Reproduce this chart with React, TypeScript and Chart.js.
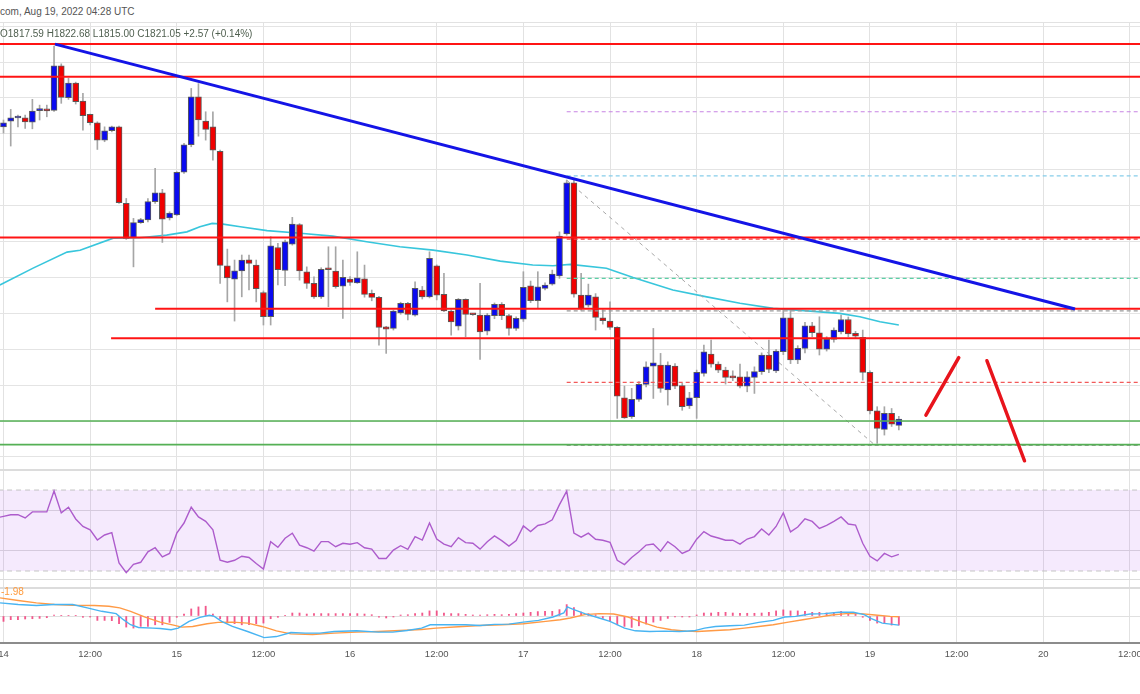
import React, { useEffect, useRef } from 'react';
import { Chart, registerables } from 'chart.js';

Chart.register(...registerables);
document.body.style.margin = '0';

// ---------------- data (hourly candles, hour 0 = Aug 14 00:00) ----------------
const OPEN = [1983.9, 1987.1, 1988.8, 1988.9, 1986.5, 1992.9, 1994.0, 1993.1, 2017.9, 2000.1, 2008.3, 1998.2, 1990.8, 1986.2, 1976.5, 1981.7, 1983.9, 1941.3, 1922.1, 1930.5, 1932.0, 1942.2, 1947.2, 1933.2, 1934.9, 1958.7, 1973.9, 2000.6, 1987.1, 1983.9, 1970.2, 1906.5, 1899.1, 1903.7, 1909.8, 1906.9, 1891.6, 1878.1, 1916.7, 1903.9, 1918.6, 1929.5, 1903.2, 1896.7, 1889.2, 1904.7, 1903.6, 1895.2, 1899.1, 1897.0, 1899.3, 1891.1, 1888.9, 1872.5, 1871.6, 1880.3, 1885.6, 1879.0, 1893.0, 1889.2, 1906.5, 1890.6, 1881.3, 1872.9, 1887.8, 1879.6, 1879.0, 1870.1, 1878.7, 1885.0, 1878.7, 1871.6, 1876.8, 1895.4, 1887.0, 1893.9, 1896.3, 1900.8, 1924.2, 1952.7, 1890.2, 1884.6, 1889.2, 1877.5, 1875.7, 1872.2, 1833.0, 1822.4, 1832.1, 1840.4, 1850.6, 1851.2, 1837.3, 1850.6, 1839.7, 1828.4, 1833.0, 1846.6, 1857.3, 1851.7, 1848.4, 1844.5, 1844.7, 1839.5, 1844.3, 1847.5, 1856.8, 1848.0, 1858.6, 1877.5, 1854.0, 1860.5, 1873.1, 1869.2, 1860.1, 1865.5, 1869.7, 1876.6, 1868.9, 1866.6, 1847.1, 1825.7, 1815.4, 1824.3, 1817.59];
const HIGH = [1987.7, 1993.6, 1990.4, 1990.4, 1999.2, 1996.0, 1996.0, 2028.9, 2019.0, 2010.9, 2008.8, 2002.5, 1991.0, 1986.7, 1983.9, 1984.3, 1984.3, 1944.0, 1932.9, 1932.9, 1944.0, 1960.8, 1949.1, 1936.6, 1958.9, 1974.7, 2005.3, 2008.0, 1992.3, 1992.3, 1970.9, 1915.8, 1909.7, 1912.5, 1912.5, 1909.7, 1892.5, 1922.7, 1919.0, 1920.8, 1933.5, 1930.0, 1905.9, 1900.4, 1905.4, 1917.1, 1917.1, 1909.7, 1900.5, 1914.3, 1906.9, 1893.0, 1889.5, 1872.8, 1881.8, 1886.2, 1886.2, 1897.6, 1895.0, 1914.3, 1907.0, 1902.3, 1882.0, 1888.3, 1888.1, 1880.0, 1896.7, 1880.0, 1885.8, 1886.0, 1879.5, 1878.0, 1903.2, 1898.0, 1903.2, 1897.0, 1904.1, 1925.4, 1954.2, 1954.2, 1902.3, 1896.3, 1891.0, 1882.0, 1886.4, 1872.6, 1839.5, 1838.2, 1842.0, 1853.0, 1871.6, 1857.7, 1853.0, 1852.0, 1841.0, 1836.0, 1848.4, 1862.3, 1865.1, 1853.0, 1850.0, 1848.0, 1851.7, 1847.5, 1850.2, 1858.0, 1865.1, 1860.0, 1881.8, 1881.8, 1862.0, 1875.0, 1875.0, 1878.1, 1867.0, 1872.0, 1879.0, 1878.0, 1870.0, 1870.7, 1848.0, 1828.0, 1828.0, 1827.0, 1822.68];
const LOW = [1980.4, 1973.2, 1983.9, 1983.0, 1982.8, 1987.7, 1989.5, 1992.5, 1997.0, 1999.2, 1996.6, 1982.1, 1984.9, 1971.3, 1975.6, 1981.1, 1941.3, 1921.2, 1905.9, 1930.1, 1931.0, 1941.3, 1919.5, 1932.0, 1934.5, 1958.0, 1972.8, 1978.7, 1976.5, 1965.4, 1896.7, 1886.4, 1875.7, 1889.2, 1893.0, 1886.4, 1873.5, 1873.5, 1895.8, 1895.4, 1918.0, 1898.5, 1893.9, 1888.3, 1888.3, 1883.7, 1894.0, 1877.2, 1895.5, 1896.7, 1889.0, 1887.0, 1862.3, 1857.7, 1870.7, 1879.5, 1876.3, 1878.4, 1888.0, 1888.6, 1887.5, 1880.9, 1867.9, 1870.7, 1867.0, 1878.8, 1854.4, 1868.0, 1877.0, 1876.5, 1867.9, 1870.5, 1875.5, 1886.0, 1882.8, 1893.0, 1895.7, 1899.5, 1923.5, 1889.0, 1881.8, 1883.5, 1870.7, 1874.0, 1871.0, 1821.5, 1821.5, 1821.5, 1831.0, 1839.0, 1832.6, 1836.0, 1828.9, 1838.0, 1826.0, 1827.0, 1821.5, 1845.0, 1850.0, 1847.0, 1840.6, 1842.5, 1838.5, 1836.3, 1835.4, 1846.0, 1847.0, 1847.0, 1857.0, 1852.0, 1852.0, 1858.0, 1867.0, 1856.8, 1859.0, 1864.0, 1868.5, 1867.0, 1866.0, 1842.8, 1824.0, 1807.6, 1812.2, 1817.0, 1815.0];
const CLOSE = [1986.2, 1988.9, 1989.0, 1986.7, 1992.7, 1993.2, 1992.8, 2017.9, 2000.3, 2008.3, 1997.9, 1990.1, 1986.2, 1976.5, 1981.7, 1983.9, 1941.6, 1921.8, 1930.5, 1932.3, 1942.2, 1947.2, 1932.5, 1935.9, 1958.5, 1973.9, 2000.6, 1987.7, 1982.5, 1970.9, 1906.7, 1899.7, 1903.7, 1909.7, 1907.8, 1893.8, 1878.1, 1917.6, 1904.3, 1919.9, 1929.7, 1903.7, 1896.7, 1889.2, 1904.5, 1904.3, 1894.8, 1900.0, 1897.3, 1899.8, 1890.6, 1888.9, 1872.2, 1871.2, 1881.3, 1885.6, 1879.4, 1893.9, 1889.2, 1910.6, 1890.2, 1881.3, 1875.3, 1887.8, 1879.4, 1879.2, 1869.7, 1879.0, 1885.0, 1878.7, 1871.6, 1877.2, 1894.5, 1887.0, 1894.8, 1895.8, 1901.9, 1923.1, 1952.7, 1890.7, 1882.8, 1890.2, 1877.8, 1875.9, 1872.2, 1833.9, 1821.8, 1832.1, 1840.4, 1850.2, 1852.5, 1838.2, 1851.2, 1839.5, 1828.0, 1833.0, 1847.1, 1858.6, 1851.7, 1848.4, 1844.3, 1844.1, 1839.5, 1844.7, 1847.5, 1856.8, 1848.8, 1859.0, 1877.5, 1854.0, 1860.5, 1873.1, 1869.2, 1860.1, 1865.5, 1870.7, 1876.6, 1868.5, 1867.3, 1847.1, 1825.7, 1815.9, 1824.3, 1818.3, 1821.05];

// moving average readings (hour, price)
const MA_X = [-0.5, 4.1, 8.8, 10.6, 15.2, 18.9, 22.6, 25.4, 27.2, 28.9, 30.4, 32.8, 36.5, 41.1, 45.6, 50.3, 54.9, 59.5, 64.2, 68.8, 73.3, 76.1, 78.5, 83.5, 87.2, 92.7, 97.4, 102.0, 106.6, 111.3, 115.8, 118.6, 121.4, 124];
const MA_Y = [1895.8, 1905.2, 1914.1, 1915.2, 1921.9, 1922.1, 1923.6, 1925.4, 1928.2, 1930.1, 1929.7, 1928.2, 1926.1, 1924.6, 1923.0, 1919.9, 1917.1, 1915.2, 1912.5, 1909.1, 1906.9, 1906.5, 1907.3, 1905.1, 1900.0, 1893.0, 1889.2, 1885.6, 1882.8, 1881.4, 1880.0, 1878.1, 1875.3, 1873.5];

// drawn levels
const RED_LEVELS = [2030.0, 2011.8, 1922.3, 1882.5, 1866.1];
const RED_LEVEL_FROM = [-2, -2, -2, 21.0, 14.9];
const GREEN_LEVELS = [1820.0, 1806.9];
const FIB_FROM = 78;
const FIB_LEVELS = [1992.3, 1956.6, 1921.4, 1899.5, 1881.4, 1841.6, 1806.4];
const TREND_X = [7.13, 148.4];
const TREND_Y = [2030.0, 1882.4];
const DIAG_X = [78, 120.7];
const DIAG_Y = [1954.2, 1806.6];
const PROJ_UP_X = [127.75, 132.3];
const PROJ_UP_Y = [1823.3, 1855.3];
const PROJ_DOWN_X = [136.2, 141.4];
const PROJ_DOWN_Y = [1853.6, 1797.9];

// RSI, first value is hour -1
const RSI_FIRST_HOUR = -1;
const RSI = [56.2, 57.0, 57.8, 57.8, 56.2, 59.2, 59.2, 59.2, 69.5, 58.7, 61.5, 55.7, 52.0, 50.3, 45.3, 47.8, 49.0, 34.0, 29.2, 33.3, 34.3, 39.5, 41.5, 37.0, 38.7, 48.7, 53.7, 61.5, 56.7, 54.5, 50.3, 35.3, 34.3, 35.3, 37.3, 36.7, 33.7, 31.0, 44.5, 41.7, 46.2, 48.7, 42.8, 41.5, 39.8, 44.5, 44.5, 42.0, 43.7, 43.2, 44.0, 41.5, 40.8, 36.2, 36.2, 40.3, 42.5, 40.7, 47.0, 45.3, 53.7, 45.8, 43.3, 42.0, 46.5, 44.0, 43.7, 40.8, 44.5, 47.3, 45.0, 42.3, 45.0, 52.3, 49.5, 52.5, 53.3, 55.3, 62.8, 69.5, 48.7, 46.7, 48.7, 45.7, 45.2, 44.2, 35.3, 33.2, 36.7, 39.5, 42.8, 43.3, 39.8, 44.5, 42.0, 38.7, 40.3, 45.7, 49.5, 47.3, 46.3, 45.2, 45.2, 43.3, 45.8, 47.0, 50.8, 47.8, 52.0, 58.7, 49.3, 51.7, 55.8, 54.5, 51.0, 52.5, 54.5, 56.7, 53.2, 52.7, 43.7, 37.3, 35.0, 38.7, 37.0, 38.2];
const RSI_BAND = [30, 70];
const RSI_GRID = [26, 40, 60];

// MACD
const MACD_X = [-0.48, 2.03, 4.55, 6.97, 9.59, 11.6, 13.6, 15.6, 16.6, 17.6, 18.7, 20.7, 21.7, 23.2, 24.2, 25.7, 27.2, 28.5, 29.2, 30.2, 31.7, 33.8, 36.1, 37.8, 39.8, 41.8, 43.8, 45.8, 48.9, 51.9, 53.9, 55.9, 57.9, 59.1, 60.9, 64.0, 66.0, 68.0, 70.0, 72.0, 74.1, 76.1, 77.6, 78.1, 78.4, 79.0, 80.5, 82.5, 84.0, 86.0, 87.5, 89.5, 91.5, 93.6, 95.6, 97.1, 98.6, 100.6, 102.6, 104.6, 106.6, 108.2, 109.7, 111.7, 113.7, 115.7, 117.7, 119.2, 120.2, 121.7, 124.0];
const MACD_Y = [2.85, 2.49, 2.27, 2.49, 2.49, 1.76, 1.02, 0.51, -0.80, -1.90, -2.49, -2.64, -2.71, -3.00, -2.64, -1.17, -0.29, 0.15, -0.07, -1.17, -2.27, -3.37, -4.69, -4.47, -3.59, -3.73, -3.73, -3.37, -3.22, -3.51, -3.51, -3.15, -2.64, -1.90, -1.90, -1.90, -2.05, -1.83, -1.76, -1.32, -0.95, -0.22, 0.66, 1.98, 1.76, 1.39, 0.51, -0.44, -1.17, -2.64, -3.22, -3.37, -3.29, -3.37, -3.22, -2.64, -2.27, -2.12, -1.98, -1.39, -0.95, -0.22, -0.07, 0.44, 0.51, 0.81, 0.81, 0.29, -0.59, -1.54, -1.98];
const SIGNAL_X = [-0.48, 2.03, 4.55, 7.07, 9.59, 12.6, 14.6, 16.1, 17.6, 19.7, 21.7, 23.7, 24.7, 26.2, 28.2, 29.7, 31.7, 33.8, 35.8, 37.8, 39.8, 42.8, 45.8, 48.9, 51.9, 54.9, 57.9, 59.9, 63.0, 66.0, 69.0, 72.0, 75.1, 77.1, 78.5, 80.5, 82.5, 84.5, 86.5, 88.5, 90.5, 92.5, 94.6, 96.1, 98.6, 100.6, 102.6, 104.6, 106.6, 108.7, 110.7, 112.7, 114.7, 116.7, 118.7, 120.7, 122.8, 124.0];
const SIGNAL_Y = [3.95, 3.37, 2.85, 2.49, 2.34, 2.27, 2.12, 1.76, 1.02, -0.29, -1.32, -2.05, -2.42, -2.27, -1.68, -1.39, -1.32, -1.54, -2.27, -3.22, -3.88, -4.03, -3.73, -3.51, -3.37, -3.15, -2.93, -2.64, -2.34, -2.05, -1.90, -1.68, -1.17, -0.81, -0.44, 0.29, 0.51, 0.44, -0.22, -1.39, -2.42, -3.00, -3.29, -3.37, -3.15, -3.00, -2.64, -2.27, -1.90, -1.32, -0.81, -0.29, 0.22, 0.51, 0.51, 0.22, -0.07, -0.15];
const HIST = [-1.17, -0.80, -0.80, -0.65, -0.59, -0.52, -0.37, 0.22, 0.15, 0.15, 0.15, -0.28, -0.22, -0.96, -0.96, -1.02, -1.67, -2.41, -2.63, -2.26, -2.26, -1.91, -1.91, -1.39, -0.28, 0.43, 1.54, 1.98, 2.13, 0.43, -0.59, -1.54, -1.67, -1.91, -1.91, -1.67, -1.54, -0.59, -0.28, 0.15, 0.65, 0.65, 0.43, 0.52, 0.52, 0.52, 0.52, 0.52, 0.52, 0.52, 0.43, 0.28, -0.28, -0.43, -0.22, 0.22, 0.28, 0.52, 0.65, 1.11, 1.11, 0.65, 0.52, 0.52, 0.37, 0.22, 0.22, 0.28, 0.37, 0.28, 0.37, 0.52, 0.65, 0.80, 0.96, 1.02, 1.02, 1.39, 2.48, 1.83, 0.87, 0.52, 0.28, -0.52, -1.17, -1.91, -2.26, -2.48, -2.13, -1.76, -1.33, -0.96, -0.52, -0.22, -0.22, -0.22, 0.22, 0.65, 0.65, 0.80, 0.80, 0.65, 0.59, 0.59, 0.59, 0.65, 0.80, 1.11, 1.33, 1.11, 1.11, 1.02, 0.80, 0.80, 0.65, 0.80, 1.02, 0.80, 0.52, -0.28, -0.96, -1.54, -1.67, -1.98, -1.98];
const MACD_LABEL = '-1.98';

const X_TICK_LABELS = ['14', '12:00', '15', '12:00', '16', '12:00', '17', '12:00', '18', '12:00', '19', '12:00', '20', '12:00'];
const TITLE = 'com, Aug 19, 2022 04:28 UTC';
const OHLC_TEXT = 'O1817.59 H1822.68 L1815.00 C1821.05 +2.57 (+0.14%)';

// ---------------- layout / style ----------------
const W = 1140;
const X_MIN = -0.485;
const X_MAX = 157.4;
const PRICE_MIN = 1793.3;
const PRICE_MAX = 2042.3;
const RSI_MIN = 21.6;
const RSI_MAX = 79.9;
const MACD_MIN = -5.87;
const MACD_MAX = 6.09;
const FONT = "'Liberation Sans', Arial, sans-serif";
const BLUE = '#0a0af0';
const RED = '#f00000';
const FIB_COLORS = ['#c784e3', '#86cdea', '#f04848', '#5ccfa6', '#9a9a9a', '#f25a5a', '#9a9a9a'];

Chart.defaults.font.family = FONT;

const pts = (xs: number[], ys: number[]) => xs.map((x, k) => ({ x, y: ys[k] }));
const hline = (level: number, from = -2, to = 162) => [{ x: from, y: level }, { x: to, y: level }];

function lineDs(data: any[], color: string, width: number, dash: number[] = [], extra: any = {}) {
  return {
    type: 'line',
    data,
    borderColor: color,
    borderWidth: width,
    borderDash: dash,
    pointRadius: 0,
    pointHoverRadius: 0,
    fill: false,
    tension: 0,
    ...extra,
  };
}

function xScale(showLabels: boolean) {
  return {
    type: 'linear',
    min: X_MIN,
    max: X_MAX,
    offset: false,
    grid: { color: '#e2e2e2', lineWidth: 1, drawTicks: false, offset: false },
    border: { display: false },
    ticks: {
      display: showLabels,
      stepSize: 12,
      maxTicksLimit: 200,
      includeBounds: false,
      autoSkip: false,
      maxRotation: 0,
      minRotation: 0,
      padding: 6,
      color: '#555',
      font: { size: 9.5, family: FONT },
      callback: (v: any) => X_TICK_LABELS[Math.round(Number(v) / 12)] ?? '',
    },
    afterFit: (s: any) => {
      s.paddingLeft = 0;
      s.paddingRight = 0;
      if (showLabels) s.height = 25;
    },
  };
}

function yScale(min: number, max: number, gridColor: string, tickValues?: number[], step?: number) {
  return {
    type: 'linear',
    position: 'right',
    min,
    max,
    beginAtZero: false,
    grid: { color: gridColor, lineWidth: 1, drawTicks: false },
    border: { display: false },
    ticks: { display: false, stepSize: step, includeBounds: false, maxTicksLimit: 100 },
    afterBuildTicks: tickValues
      ? (s: any) => {
          s.ticks = tickValues.map((v) => ({ value: v }));
        }
      : undefined,
  };
}

const baseOptions = (scales: any) => ({
  responsive: false,
  maintainAspectRatio: false,
  animation: false,
  devicePixelRatio: 1,
  events: [],
  layout: { padding: 0 },
  plugins: { legend: { display: false }, tooltip: { enabled: false }, title: { display: false } },
  scales,
});

function priceConfig(): any {
  const candleColor = (ctx: any) => {
    const k = ctx.dataIndex;
    if (k === undefined) return BLUE;
    return CLOSE[k] >= OPEN[k] ? BLUE : RED;
  };
  const datasets: any[] = [];
  datasets.push(lineDs(pts(PROJ_UP_X, PROJ_UP_Y), '#e8141c', 3.5, [], { borderCapStyle: 'round' }));
  datasets.push(lineDs(pts(PROJ_DOWN_X, PROJ_DOWN_Y), '#e8141c', 3.5, [], { borderCapStyle: 'round' }));
  datasets.push(lineDs(pts(TREND_X, TREND_Y), '#1414e6', 3));
  RED_LEVELS.forEach((lv, k) => datasets.push(lineDs(hline(lv, RED_LEVEL_FROM[k]), '#ff1414', 2)));
  GREEN_LEVELS.forEach((lv) => datasets.push(lineDs(hline(lv), '#55b055', 1.6)));
  FIB_LEVELS.forEach((lv, k) => datasets.push(lineDs(hline(lv, FIB_FROM), FIB_COLORS[k], 1.2, [4, 3])));
  datasets.push(
    {
      type: 'bar',
      data: OPEN.map((o, k) => ({ x: k, y: [o, CLOSE[k]] })),
      backgroundColor: candleColor,
      borderColor: '#5a5a5a',
      borderWidth: 1,
      borderSkipped: false,
      barThickness: 6,
      minBarLength: 2,
      grouped: false,
    },
    {
      type: 'bar',
      data: LOW.map((l, k) => ({ x: k, y: [l, HIGH[k]] })),
      backgroundColor: '#a6a6a6',
      borderWidth: 0,
      barThickness: 1,
      grouped: false,
    },
  );
  datasets.push(lineDs(pts(DIAG_X, DIAG_Y), '#a8a8a8', 1, [4, 4]));
  datasets.push(lineDs(pts(MA_X, MA_Y), '#38c6dc', 1.6));
  return {
    type: 'bar',
    data: { datasets },
    options: baseOptions({
      x: xScale(false),
      y: yScale(PRICE_MIN, PRICE_MAX, '#e4e4e4', undefined, 20),
    }),
  };
}

function rsiConfig(): any {
  return {
    type: 'line',
    data: {
      datasets: [
        lineDs(RSI.map((v, k) => ({ x: k + RSI_FIRST_HOUR, y: v })), '#ad5ccc', 1.4),
        lineDs(hline(RSI_BAND[0]), '#c4c4c4', 1, [5, 4]),
        lineDs(hline(RSI_BAND[1]), '#c4c4c4', 1, [5, 4], {
          fill: { value: RSI_BAND[0] },
          backgroundColor: 'rgba(160, 60, 240, 0.11)',
        }),
      ],
    },
    options: baseOptions({
      x: xScale(false),
      y: yScale(RSI_MIN, RSI_MAX, '#dcdcdc', RSI_GRID),
    }),
  };
}

function macdConfig(): any {
  return {
    type: 'bar',
    data: {
      datasets: [
        lineDs(pts(MACD_X, MACD_Y), '#48b4f2', 1.4),
        lineDs(pts(SIGNAL_X, SIGNAL_Y), '#ff9a45', 1.4),
        {
          type: 'bar',
          data: HIST.map((v, k) => ({ x: k, y: v })),
          backgroundColor: 'rgba(240, 60, 120, 0.85)',
          borderWidth: 0,
          barThickness: 1.2,
          grouped: false,
        },
      ],
    },
    options: baseOptions({
      x: xScale(true),
      y: yScale(MACD_MIN, MACD_MAX, '#e0e0e0', [0]),
    }),
  };
}

function ChartCanvas({ top, height, build }: { top: number; height: number; build: () => any }) {
  const ref = useRef<HTMLCanvasElement>(null);
  useEffect(() => {
    const chart = new Chart(ref.current as HTMLCanvasElement, build());
    return () => chart.destroy();
  }, []);
  return (
    <canvas
      ref={ref}
      width={W}
      height={height}
      style={{ position: 'absolute', left: 0, top, width: W, height, display: 'block' }}
    />
  );
}

const textStyle: React.CSSProperties = {
  position: 'absolute',
  fontFamily: FONT,
  fontSize: 10,
  lineHeight: '12px',
  whiteSpace: 'pre',
  zIndex: 2,
};

export default function App() {
  return (
    <div style={{ position: 'relative', width: W, height: 694, overflow: 'hidden', background: '#fff' }}>
      <div style={{ ...textStyle, left: 0, top: 6, color: '#555' }}>{TITLE}</div>
      <div style={{ position: 'absolute', left: 0, top: 22, width: W, height: 1, background: '#e2e2e2' }} />
      <ChartCanvas top={22} height={447} build={priceConfig} />
      <div style={{ ...textStyle, left: 0, top: 28, color: '#4f5f4f' }}>{OHLC_TEXT}</div>
      <div style={{ position: 'absolute', left: 0, top: 469, width: W, height: 2, background: '#dcdcdc', zIndex: 1 }} />
      <ChartCanvas top={470} height={118} build={rsiConfig} />
      <div style={{ position: 'absolute', left: 0, top: 587, width: W, height: 2, background: '#dcdcdc', zIndex: 1 }} />
      <ChartCanvas top={588} height={80} build={macdConfig} />
      <div style={{ ...textStyle, left: 1, top: 586, color: '#ff9a3c', fontSize: 10 }}>{MACD_LABEL}</div>
      <div style={{ position: 'absolute', left: 0, top: 642, width: W, height: 2, background: '#8c8c8c', zIndex: 1 }} />
    </div>
  );
}
